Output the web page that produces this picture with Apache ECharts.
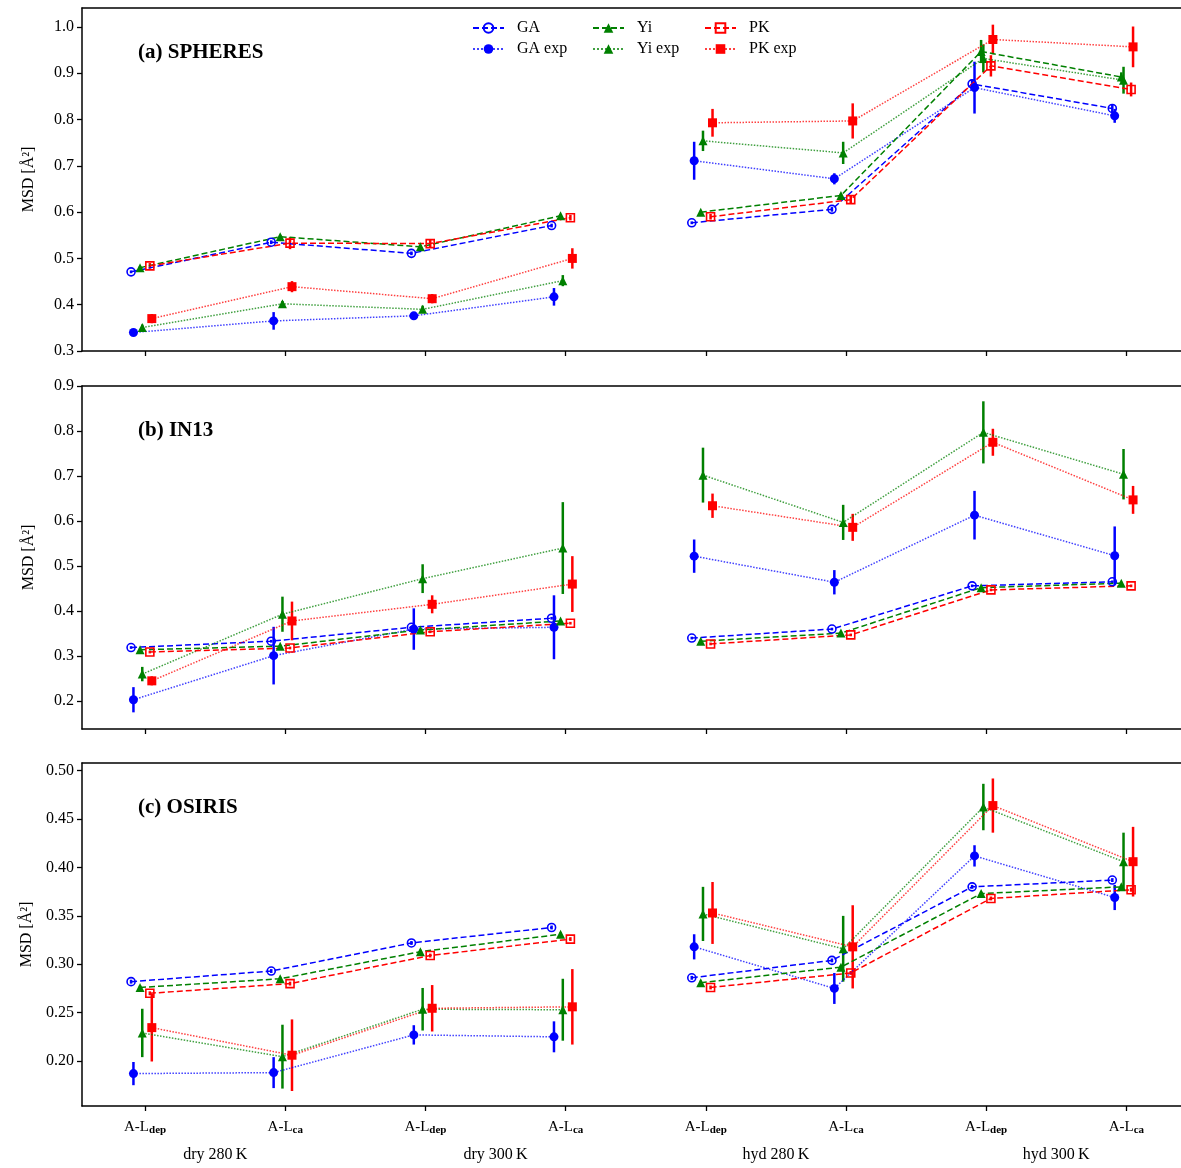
<!DOCTYPE html>
<html><head><meta charset="utf-8">
<script src="https://cdn.jsdelivr.net/npm/echarts@6/dist/echarts.min.js"></script>
<style>html,body{margin:0;padding:0;background:#fff}#c{width:1181px;height:1168px}</style>
</head><body><div id="c"></div>
<script>
// ---------- data ----------
const positions = [0, 1, 2, 3, 4, 5, 6, 7];
const tickMain = ['A-L', 'A-L', 'A-L', 'A-L', 'A-L', 'A-L', 'A-L', 'A-L'];
const tickSub = ['dep', 'ca', 'dep', 'ca', 'dep', 'ca', 'dep', 'ca'];
const groupPositions = [0.5, 2.5, 4.5, 6.5];
const groupLabels = ['dry 280\u2009K', 'dry 300\u2009K', 'hyd 280\u2009K', 'hyd 300\u2009K'];
const panelTitles = ['(a) SPHERES', '(b) IN13', '(c) OSIRIS'];
const seriesNames = ['GA', 'GA exp', 'Yi', 'Yi exp', 'PK', 'PK exp'];
// lines are drawn separately for the dry block (0-3) and the hydrated block (4-7)
const segments = [[0, 4], [4, 8]];

// (a) SPHERES
const sph_GA = [0.471, 0.535, 0.511, 0.571, 0.577, 0.606, 0.877, 0.824];
const sph_GA_err = [0.003, 0.004, 0.004, 0.004, 0.003, 0.005, 0.010, 0.008];
const sph_GAexp = [0.340, 0.365, 0.376, 0.417, 0.711, 0.672, 0.869, 0.808];
const sph_GAexp_err = [0.004, 0.019, 0.005, 0.019, 0.041, 0.012, 0.056, 0.015];
const sph_Yi = [0.480, 0.547, 0.525, 0.592, 0.600, 0.636, 0.947, 0.892];
const sph_Yi_err = [0.003, 0.004, 0.004, 0.004, 0.003, 0.004, 0.025, 0.010];
const sph_Yiexp = [0.351, 0.402, 0.390, 0.452, 0.754, 0.728, 0.932, 0.885];
const sph_Yiexp_err = [0.006, 0.006, 0.008, 0.012, 0.022, 0.024, 0.030, 0.029];
const sph_PK = [0.484, 0.533, 0.532, 0.588, 0.590, 0.627, 0.916, 0.865];
const sph_PK_err = [0.006, 0.013, 0.008, 0.006, 0.006, 0.008, 0.023, 0.015];
const sph_PKexp = [0.370, 0.439, 0.413, 0.500, 0.793, 0.797, 0.973, 0.957];
const sph_PKexp_err = [0.010, 0.012, 0.010, 0.022, 0.030, 0.038, 0.032, 0.044];

// (b) IN13
const in13_GA = [0.319, 0.333, 0.364, 0.384, 0.340, 0.360, 0.456, 0.465];
const in13_GA_err = [0.003, 0.003, 0.003, 0.003, 0.003, 0.003, 0.003, 0.003];
const in13_GAexp = [0.203, 0.301, 0.360, 0.364, 0.522, 0.464, 0.613, 0.523];
const in13_GAexp_err = [0.028, 0.064, 0.046, 0.071, 0.037, 0.027, 0.054, 0.065];
const in13_Yi = [0.314, 0.322, 0.358, 0.378, 0.333, 0.351, 0.452, 0.462];
const in13_Yi_err = [0.003, 0.003, 0.003, 0.003, 0.003, 0.003, 0.003, 0.003];
const in13_Yiexp = [0.260, 0.393, 0.472, 0.540, 0.702, 0.597, 0.797, 0.704];
const in13_Yiexp_err = [0.016, 0.039, 0.032, 0.102, 0.061, 0.039, 0.069, 0.056];
const in13_PK = [0.309, 0.318, 0.354, 0.373, 0.327, 0.347, 0.447, 0.456];
const in13_PK_err = [0.003, 0.003, 0.003, 0.003, 0.003, 0.003, 0.003, 0.003];
const in13_PKexp = [0.245, 0.378, 0.415, 0.460, 0.634, 0.586, 0.775, 0.647];
const in13_PKexp_err = [0.010, 0.043, 0.020, 0.062, 0.027, 0.030, 0.030, 0.031];

// (c) OSIRIS
const osi_GA = [0.282, 0.293, 0.322, 0.338, 0.286, 0.304, 0.380, 0.387];
const osi_GA_err = [0.002, 0.002, 0.002, 0.002, 0.002, 0.002, 0.002, 0.002];
const osi_GAexp = [0.187, 0.188, 0.227, 0.225, 0.318, 0.275, 0.412, 0.369];
const osi_GAexp_err = [0.012, 0.016, 0.010, 0.016, 0.013, 0.016, 0.011, 0.013];
const osi_Yi = [0.276, 0.285, 0.313, 0.331, 0.281, 0.297, 0.373, 0.380];
const osi_Yi_err = [0.002, 0.002, 0.002, 0.002, 0.002, 0.002, 0.002, 0.002];
const osi_Yiexp = [0.229, 0.2045, 0.2535, 0.253, 0.352, 0.316, 0.4625, 0.406];
const osi_Yiexp_err = [0.025, 0.033, 0.022, 0.032, 0.028, 0.034, 0.024, 0.030];
const osi_PK = [0.270, 0.280, 0.309, 0.326, 0.276, 0.291, 0.368, 0.377];
const osi_PK_err = [0.002, 0.002, 0.002, 0.002, 0.002, 0.002, 0.002, 0.002];
const osi_PKexp = [0.2345, 0.206, 0.2545, 0.256, 0.353, 0.318, 0.464, 0.406];
const osi_PKexp_err = [0.035, 0.037, 0.024, 0.039, 0.032, 0.043, 0.028, 0.036];

const yTicksA = [0.3, 0.4, 0.5, 0.6, 0.7, 0.8, 0.9, 1.0];
const yTicksB = [0.2, 0.3, 0.4, 0.5, 0.6, 0.7, 0.8, 0.9];
const yTicksC = [0.20, 0.25, 0.30, 0.35, 0.40, 0.45, 0.50];

// ---------- layout / style ----------
const FONT = 'Liberation Serif';
const panels = [
  { vals: [sph_GA, sph_GAexp, sph_Yi, sph_Yiexp, sph_PK, sph_PKexp],
    errs: [sph_GA_err, sph_GAexp_err, sph_Yi_err, sph_Yiexp_err, sph_PK_err, sph_PKexp_err],
    top: 8, min: 0.3, max: 1.041, ticks: yTicksA, dec: 1 },
  { vals: [in13_GA, in13_GAexp, in13_Yi, in13_Yiexp, in13_PK, in13_PKexp],
    errs: [in13_GA_err, in13_GAexp_err, in13_Yi_err, in13_Yiexp_err, in13_PK_err, in13_PKexp_err],
    top: 386, min: 0.138, max: 0.9, ticks: yTicksB, dec: 1 },
  { vals: [osi_GA, osi_GAexp, osi_Yi, osi_Yiexp, osi_PK, osi_PKexp],
    errs: [osi_GA_err, osi_GAexp_err, osi_Yi_err, osi_Yiexp_err, osi_PK_err, osi_PKexp_err],
    top: 763, min: 0.1535, max: 0.508, ticks: yTicksC, dec: 2 }
];
const styles = [
  { color: '#0000ff', symbol: 'circle', hollow: true, dash: [6, 3], off: -0.10, size: 8 },
  { color: '#0000ff', symbol: 'circle', hollow: false, dash: 'dotted', off: -0.083, size: 9 },
  { color: '#008000', symbol: 'triangle', hollow: false, dash: [6, 3], off: -0.036, size: 9 },
  { color: '#008000', symbol: 'triangle', hollow: false, dash: 'dotted', off: -0.02, size: 9 },
  { color: '#ff0000', symbol: 'rect', hollow: true, dash: [6, 3], off: 0.034, size: 8 },
  { color: '#ff0000', symbol: 'rect', hollow: false, dash: 'dotted', off: 0.048, size: 9 }
];
const GRID_H = 343, X_MIN = -0.45, X_MAX = 7.39;

const grid = [], xAxis = [], yAxis = [], series = [], title = [];
panels.forEach((p, pi) => {
  grid.push({ left: 82, top: p.top, width: 1099, height: GRID_H, show: false });
  xAxis.push({
    type: 'value', gridIndex: pi, min: X_MIN, max: X_MAX, position: 'bottom',
    axisLine: { show: true, onZero: false, lineStyle: { color: '#000', width: 1.5 } },
    axisTick: { show: true, customValues: positions, length: 5, lineStyle: { color: '#000', width: 1.3 } },
    axisLabel: { show: pi === 2, customValues: positions, margin: 12,
      formatter: v => { const i = Math.round(v); return '{m|' + tickMain[i] + '}{s|' + tickSub[i] + '}'; },
      rich: { m: { fontFamily: FONT, fontSize: 15, color: '#000', lineHeight: 18 },
              s: { fontFamily: FONT, fontSize: 11, fontWeight: 'bold', color: '#000', padding: [7, 0, 0, 0], lineHeight: 18 } } },
    splitLine: { show: false }
  });
  yAxis.push({
    type: 'value', gridIndex: pi, min: p.min, max: p.max,
    axisLine: { show: true, onZero: false, lineStyle: { color: '#000', width: 1.5 } },
    axisTick: { show: true, customValues: p.ticks, length: 5, lineStyle: { color: '#000', width: 1.3 } },
    axisLabel: { customValues: p.ticks, formatter: v => v.toFixed(p.dec), fontFamily: FONT, fontSize: 16, color: '#000', margin: 8 },
    splitLine: { show: false },
    name: 'MSD [Å²]', nameLocation: 'middle', nameGap: 45, nameRotate: 90,
    nameTextStyle: { fontFamily: FONT, fontSize: 16, color: '#000' }
  });
  title.push({ text: panelTitles[pi], left: 133, top: p.top + 29,
    textStyle: { fontFamily: FONT, fontSize: 21, fontWeight: 'bold', color: '#000' } });

  styles.forEach((s, si) => {
    const vals = p.vals[si], errs = p.errs[si];
    series.push({
      type: 'custom', xAxisIndex: pi, yAxisIndex: pi, z: 1, silent: true,
      data: vals.map((v, i) => [positions[i] + s.off, v - errs[i], v + errs[i]]),
      renderItem: (params, api) => {
        const a = api.coord([api.value(0), api.value(1)]);
        const b = api.coord([api.value(0), api.value(2)]);
        return { type: 'line', shape: { x1: a[0], y1: a[1], x2: b[0], y2: b[1] },
          style: { stroke: s.color, lineWidth: 2.5 } };
      }
    });
    segments.forEach(seg => {
      const idx = positions.slice(seg[0], seg[1]).map((_, k) => seg[0] + k);
      series.push({
        name: seriesNames[si], type: 'line', xAxisIndex: pi, yAxisIndex: pi, z: 2,
        data: idx.map(i => [positions[i] + s.off, vals[i]]),
        symbol: s.symbol, symbolSize: s.size, showAllSymbol: true,
        lineStyle: { color: s.color, width: 1.5, type: s.dash, opacity: s.dash === 'dotted' ? 0.75 : 1 },
        itemStyle: s.hollow ? { color: 'rgba(255,255,255,0)', borderColor: s.color, borderWidth: 1.6 }
                            : { color: s.color, borderColor: s.color, borderWidth: 0 },
        emphasis: { disabled: true }, animation: false
      });
    });
  });
});
// top frame lines for each panel
panels.forEach((p, pi) => {
  xAxis.push({
    type: 'value', gridIndex: pi, min: X_MIN, max: X_MAX, position: 'top',
    axisLine: { show: true, onZero: false, lineStyle: { color: '#000', width: 1.5 } },
    axisTick: { show: false }, axisLabel: { show: false }, splitLine: { show: false }
  });
});
// group labels under the bottom panel
xAxis.push({
  type: 'value', gridIndex: 2, min: X_MIN, max: X_MAX, position: 'bottom',
  axisLine: { show: false }, axisTick: { show: false }, splitLine: { show: false },
  axisLabel: { customValues: groupPositions, margin: 41,
    formatter: v => groupLabels[Math.round((v - 0.5) / 2)],
    fontFamily: FONT, fontSize: 16, color: '#000' }
});

const legendBase = { orient: 'vertical', top: 15, itemWidth: 31, itemHeight: 12, itemGap: 5,
  textStyle: { fontFamily: FONT, fontSize: 16, color: '#000', padding: [0, 0, 0, 8] } };
const legend = [
  Object.assign({}, legendBase, { left: 467, data: ['GA', 'GA exp'] }),
  Object.assign({}, legendBase, { left: 587, data: ['Yi', 'Yi exp'] }),
  Object.assign({}, legendBase, { left: 699, data: ['PK', 'PK exp'] })
];

const chart = echarts.init(document.getElementById('c'), null, { renderer: 'canvas' });
chart.setOption({ animation: false, backgroundColor: '#fff', grid, xAxis, yAxis, series, title, legend });
</script>
</body></html>
